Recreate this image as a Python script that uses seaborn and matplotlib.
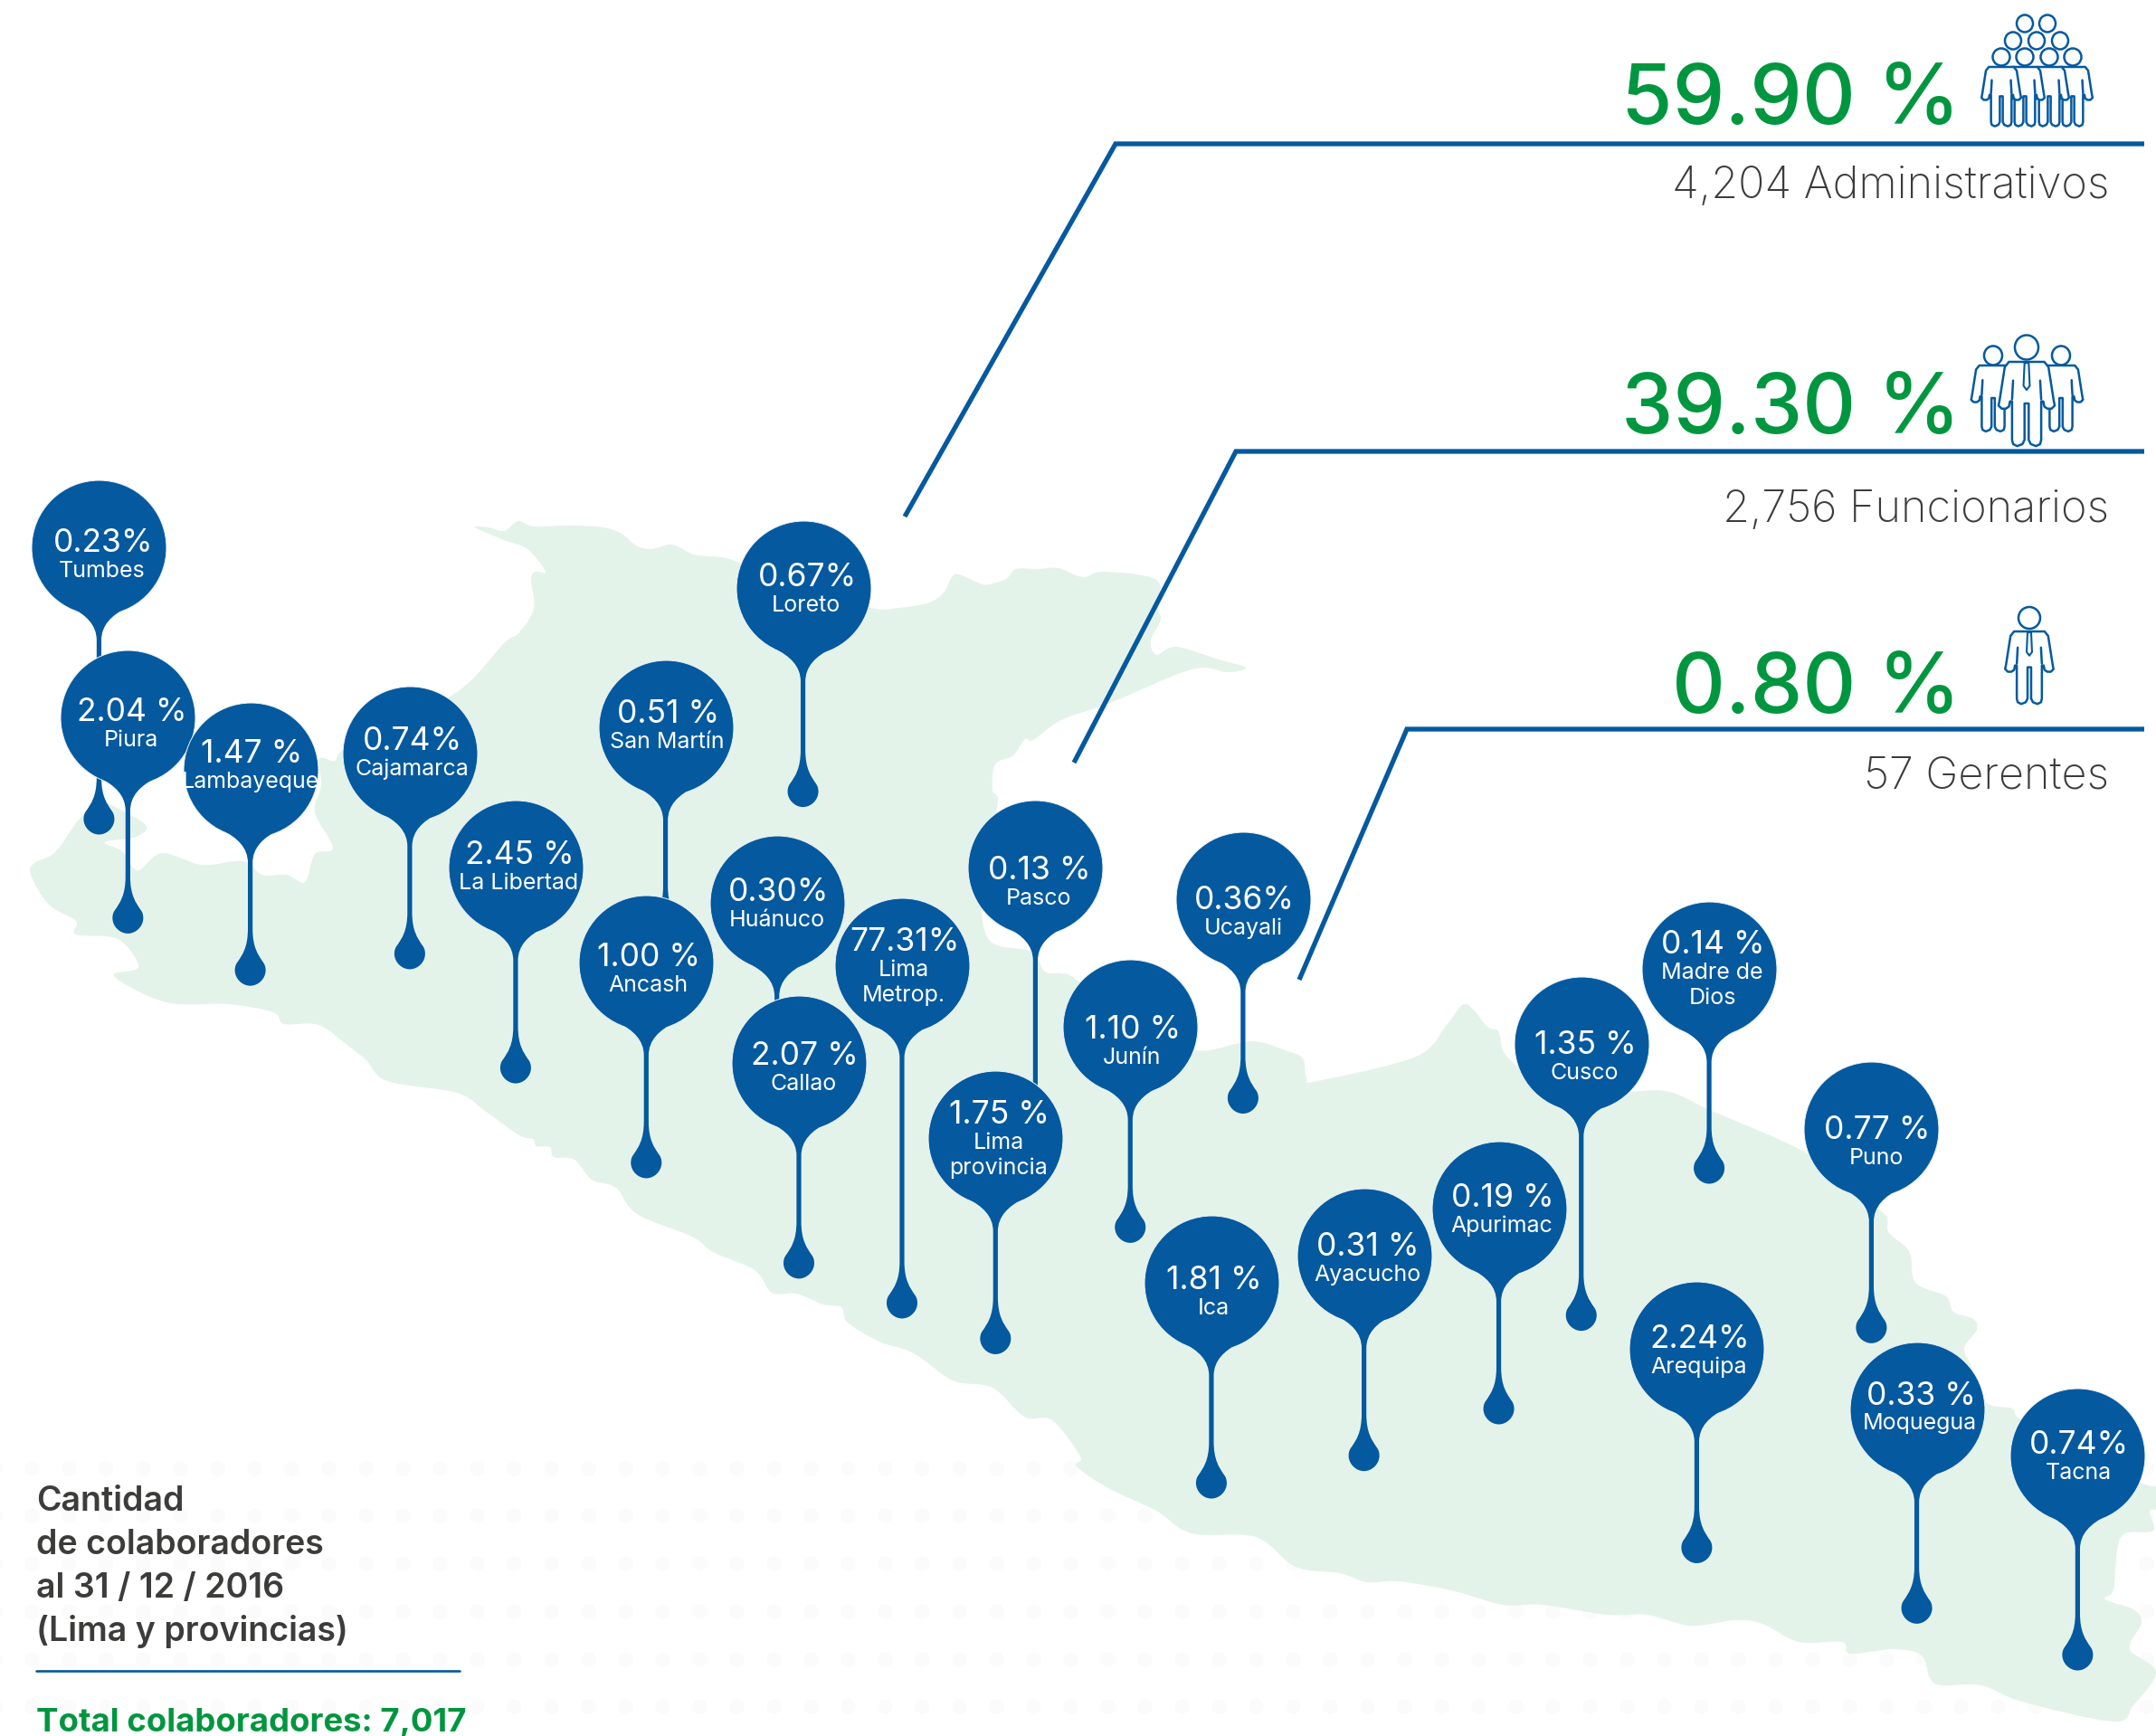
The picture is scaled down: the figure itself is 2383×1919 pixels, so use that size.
import numpy as np
import matplotlib
matplotlib.use("Agg")
import matplotlib.pyplot as plt
from matplotlib.path import Path
from matplotlib.patches import PathPatch, Ellipse
import seaborn as sns

sns.set_theme(style="white")
plt.rcParams["font.family"] = ["Inter", "DejaVu Sans"]

BLUE = "#04599F"
GREEN = "#00963F"
DARK = "#3C3C3B"
LAND = "#E4F3EA"
DOT = "#FBFBFB"

W, H = 2383, 1919
U = W / 1568  # pin coordinates below are given on a 1568-wide grid

# Regions, in drawing order (later pins overlap earlier ones)
regions = [["Tumbes"], ["Piura"], ["Lambayeque"], ["Cajamarca"], ["La Libertad"],
           ["San Martín"], ["Ancash"], ["Loreto"], ["Huánuco"], ["Callao"],
           ["Lima", "Metrop."], ["Pasco"], ["Lima", "provincia"], ["Junín"],
           ["Ucayali"], ["Ica"], ["Ayacucho"], ["Apurimac"], ["Cusco"],
           ["Madre de", "Dios"], ["Puno"], ["Arequipa"], ["Moquegua"], ["Tacna"]]
shares = ["0.23%", "2.04 %", "1.47 %", "0.74%", "2.45 %", "0.51 %", "1.00 %", "0.67%",
          "0.30%", "2.07 %", "77.31%", "0.13 %", "1.75 %", "1.10 %", "0.36%", "1.81 %",
          "0.31 %", "0.19 %", "1.35 %", "0.14 %", "0.77 %", "2.24%", "0.33 %", "0.74%"]
pin_x = [72, 93, 182, 298, 375, 484, 470, 584, 565, 581, 656, 753, 724, 822, 904, 881,
         992, 1090, 1150, 1243, 1361, 1234, 1394, 1511]
pin_y = [398, 522, 560, 548, 631, 529, 700, 428, 657, 773, 702, 631, 828, 747, 654, 933,
         913, 879, 759, 705, 821, 981, 1025, 1059]
pin_tip = [607, 679, 717, 705, 788, 686, 857, 587, 814, 930, 959, 840, 985, 904, 810, 1090,
           1070, 1036, 968, 861, 977, 1137, 1181, 1215]
share_x = [75, 96, 183, 300, 378, 486, 472, 587, 566, 585, 658, 756, 727, 824, 905, 883,
           995, 1093, 1153, 1246, 1365, 1236, 1397, 1512]
share_y = [393, 516, 546, 537, 620, 517, 694, 418, 647, 766, 683, 631, 809, 747, 653, 929,
           905, 869, 758, 685, 820, 972, 1013, 1049]

# Staff categories: share, headcount caption, baselines and leader-line corners
staff_share = ["59.90 %", "39.30 %", "0.80 %"]
staff_caption = ["4,204 Administrativos", "2,756 Funcionarios", "57 Gerentes"]
share_base = [137, 479, 788]
caption_base = [219, 577, 871]
leader_x = [[1000, 1233, 2370], [1187, 1366, 2370], [1436, 1555, 2370]]
leader_y = [[571, 159, 159], [843, 499, 499], [1083, 806, 806]]

note_lines = ["Cantidad", "de colaboradores", "al 31 / 12 / 2016", "(Lima y provincias)"]
note_base = [1670, 1718, 1766, 1814]
total_label = "Total colaboradores: 7,017"

# Outline of the country
land_x = [525, 540, 557, 573, 590, 630, 667, 687, 703, 720, 743, 767, 797, 817, 880, 963,
          993, 1027, 1043, 1052, 1060, 1083, 1093, 1112, 1123, 1147, 1170, 1197, 1220, 1278,
          1280, 1283, 1272, 1278, 1300, 1347, 1377, 1357, 1317, 1227, 1173, 1142, 1133, 1120,
          1100, 1097, 1103, 1095, 1085, 1094, 1140, 1155, 1174, 1190, 1250, 1320, 1383, 1423,
          1440, 1444, 1456, 1565, 1599, 1620, 1644, 1656, 1662, 1680, 1700, 1725, 1748, 1762,
          1785, 1803, 1845, 1892, 2001, 2078, 2086, 2088, 2110, 2114, 2122, 2151, 2159, 2181,
          2185, 2171, 2179, 2195, 2224, 2234, 2300, 2371, 2390, 2390, 2376, 2380, 2349, 2340,
          2336, 2327, 2358, 2367, 2354, 2383, 2358, 2336, 2235, 2190, 2146, 2133, 2124, 2093,
          2045, 2036, 1988, 1948, 1917, 1869, 1820, 1776, 1705, 1661, 1608, 1547, 1511, 1481,
          1432, 1388, 1317, 1278, 1225, 1190, 1194, 1163, 1132, 1097, 1053, 1010, 972, 937,
          930, 910, 880, 853, 834, 788, 765, 704, 681, 654, 635, 612, 608, 593, 589, 574,
          536, 505, 428, 405, 386, 352, 314, 302, 252, 184, 126, 153, 130, 84, 84, 54, 34,
          38, 61, 87, 110, 125, 161, 150, 116, 135, 152, 179, 223, 268, 290, 317, 337, 348,
          368, 348, 355, 353, 370, 379, 430, 484, 497, 523, 558, 573, 590, 587, 592, 603, 583,
          557]
land_y = [583, 583, 587, 576, 582, 581, 583, 590, 603, 607, 602, 613, 616, 622, 650, 672,
          672, 666, 655, 638, 635, 645, 646, 640, 629, 629, 628, 638, 632, 641,
          673, 685, 708, 724, 715, 729, 738, 743, 740, 777, 796, 818, 817, 835,
          845, 873, 885, 930, 990, 1040, 1052, 1074, 1076, 1083, 1130, 1161, 1151, 1162,
          1170, 1192, 1195, 1168, 1133, 1110, 1135, 1140, 1163, 1182, 1205, 1225, 1245, 1232,
          1212, 1207, 1207, 1228, 1277, 1338, 1348, 1363, 1383, 1410, 1422, 1433, 1450, 1458,
          1470, 1490, 1510, 1550, 1557, 1570, 1610, 1641, 1643, 1668, 1670, 1692, 1695, 1714,
          1757, 1768, 1779, 1794, 1823, 1848, 1885, 1903, 1881, 1863, 1863, 1855, 1830, 1823,
          1828, 1815, 1815, 1795, 1791, 1797, 1785, 1785, 1774, 1774, 1759, 1748, 1749, 1739,
          1732, 1699, 1695, 1670, 1645, 1621, 1610, 1570, 1566, 1534, 1526, 1496, 1483, 1462,
          1445, 1442, 1430, 1429, 1404, 1384, 1367, 1342, 1313, 1304, 1282, 1279, 1268, 1267, 1259, 1255,
          1228, 1208, 1195, 1172, 1157, 1133, 1132, 1119, 1110, 1108, 1079, 1069, 1038, 1033, 1018, 1000, 967,
          954, 942, 906, 886, 891, 912, 925, 931, 941, 962, 943, 956, 952, 967, 967, 975, 944,
          937, 898, 868, 839, 841, 829, 800, 772, 770, 750, 710, 700, 673, 640, 632, 632, 607,
          597]

# Stick-figure outline, origin at the base of the neck
body_x = [-6, -17, -21, -26, -27, -24, -20, -17, -16, -14, -14, -13, -9, -4, -2, -2, 2, 2, 4, 9, 13,
          14, 14, 16, 17, 20, 24, 27, 26, 21, 17, 6]
body_y = [0, 0, 5, 37, 42, 45, 45, 43, 38, 38, 75, 79, 81, 79, 75, 40, 40, 75, 79, 81, 79,
          75, 38, 38, 43, 45, 45, 42, 37, 5, 0, 0]
tie_x = [-2, 2, 3, 0, -3, -2]
tie_y = [1, 1, 23, 27, 23, 1]


def smooth_closed(xs, ys):
    """Closed Catmull-Rom curve through the given vertices, as a Bezier path."""
    p = np.column_stack([xs, ys]).astype(float)
    n = len(p)
    verts, codes = [p[0]], [Path.MOVETO]
    for i in range(n):
        p0, p1, p2, p3 = p[i - 1], p[i], p[(i + 1) % n], p[(i + 2) % n]
        verts += [p1 + (p2 - p0) / 6, p2 - (p3 - p1) / 6, p2]
        codes += [Path.CURVE4] * 3
    return Path(verts, codes)


def pin_body(cx, cy, tip):
    """Neck, stem and drop hanging below a pin head."""
    half = 2.6
    right = [(32, cy + 66), (14, cy + 75), (half, cy + 86), (half, cy + 103),
             (half, tip - 63), (half, tip - 42), (9, tip - 34), (13.5, tip - 27),
             (16, tip - 24), (17, tip - 21), (17, tip - 17), (17, tip - 8), (9, tip), (0, tip)]
    left = [(-x, y) for x, y in reversed(right[:-1])]
    pts = right + left
    verts = [(cx + x, y) for x, y in pts]
    codes = [Path.MOVETO] + [Path.CURVE4] * 3 + [Path.LINETO] + [Path.CURVE4] * 9
    codes += [Path.CURVE4] * 9 + [Path.LINETO] + [Path.CURVE4] * 3
    return Path(verts, codes)


def person(ax, x, y, scale, head, z, tie=True):
    """Outline figure: neck base at (x, y), head centre at head=(hx, hy, rx, ry)."""
    bx = x + np.array(body_x) * scale
    by = y + np.array(body_y) * scale
    ax.fill(bx, by, facecolor="white", edgecolor=BLUE, lw=1.8, joinstyle="round", zorder=z)
    for side in (-1, 1):
        ax.plot([x + side * 13 * scale, x + side * 14 * scale],
                [y + 18 * scale, y + 36 * scale], color=BLUE, lw=1.8, zorder=z)
    if tie:
        ax.plot(x + np.array(tie_x) * scale, y + np.array(tie_y) * scale, color=BLUE, lw=1.5, zorder=z)
    ax.add_patch(Ellipse(head[:2], 2 * head[2], 2 * head[3], facecolor="white",
                         edgecolor=BLUE, lw=1.8, zorder=z))


fig = plt.figure(figsize=(W / 100, H / 100), dpi=100)
ax = fig.add_axes([0, 0, 1, 1])

# Faint dot pattern behind the land
dots_x, dots_y = np.meshgrid(np.arange(-6, W + 20, 41), [1623, 1675, 1728, 1781, 1834, 1886])
sns.scatterplot(x=dots_x.ravel(), y=dots_y.ravel(), s=135, color=DOT, linewidth=0, ax=ax, zorder=0,
                legend=False)

ax.add_patch(PathPatch(smooth_closed(land_x, land_y), facecolor=LAND, edgecolor="none", zorder=1))

# Leader lines and staff figures
for xs, ys in zip(leader_x, leader_y):
    ax.plot(xs, ys, color=BLUE, lw=3.8, solid_joinstyle="miter", solid_capstyle="butt", zorder=2)
for text, base in zip(staff_share, share_base):
    ax.text(2167, base, text, color=GREEN, fontsize=66, fontweight="medium",
            ha="right", va="baseline", zorder=3)
for text, base in zip(staff_caption, caption_base):
    ax.text(2331, base, text, color=DARK, fontsize=35, fontweight="light",
            ha="right", va="baseline", zorder=3)

for hx, hy in [(2238, 26), (2263, 26), (2225, 45), (2251, 45), (2277, 45)]:
    ax.add_patch(Ellipse((hx, hy), 18, 19, facecolor="white", edgecolor=BLUE, lw=1.8, zorder=3))
for i, fx in enumerate([2291, 2265, 2238, 2212]):
    person(ax, fx, 74, 0.81, (fx, 63, 9.5, 9.5), 4 + i, tie=False)
for fx in (2203, 2278):
    person(ax, fx, 404, 0.9, (fx, 393, 10, 10.5), 4, tie=False)
person(ax, 2240, 400, 1.15, (2240, 384, 13, 13.5), 5)
person(ax, 2243, 698, 0.99, (2243, 683, 12, 12), 4)

# Pins: head with its hairline halo first, then the body over the halo
for i, (label, share, px, py, tip, sx, sy) in enumerate(
        zip(regions, shares, pin_x, pin_y, pin_tip, share_x, share_y)):
    z = 10 + i * 2
    cx, cy, ty = px * U, py * U, tip * U
    sns.scatterplot(x=[cx], y=[cy], s=11500, color=BLUE, linewidth=0.7, edgecolor="#EAF2F8",
                    ax=ax, zorder=z, legend=False)
    ax.add_patch(PathPatch(pin_body(cx, cy, ty), facecolor=BLUE, edgecolor="none", zorder=z + 0.5))
    ax.text(sx * U, sy * U + 13, share, color="white", fontsize=25.5, ha="center", va="baseline",
            zorder=z + 1)
    for k, line in enumerate(label):
        ax.text(sx * U - 1, (sy + 21) * U + 9 + k * 28, line, color="white", fontsize=18,
                ha="center", va="baseline", zorder=z + 1)

# Date note and total
for line, base in zip(note_lines, note_base):
    ax.text(40, base, line, color=DARK, fontsize=27, fontweight="semibold", va="baseline", zorder=3)
ax.plot([40, 508], [1847, 1847], color=BLUE, lw=1.9, zorder=3)
ax.text(40, 1914, total_label, color=GREEN, fontsize=26.3, fontweight="bold", va="baseline", zorder=3)

ax.set_xlim(0, W)
ax.set_ylim(H, 0)
ax.axis("off")
fig.savefig("out.png", dpi=100, facecolor="white")
